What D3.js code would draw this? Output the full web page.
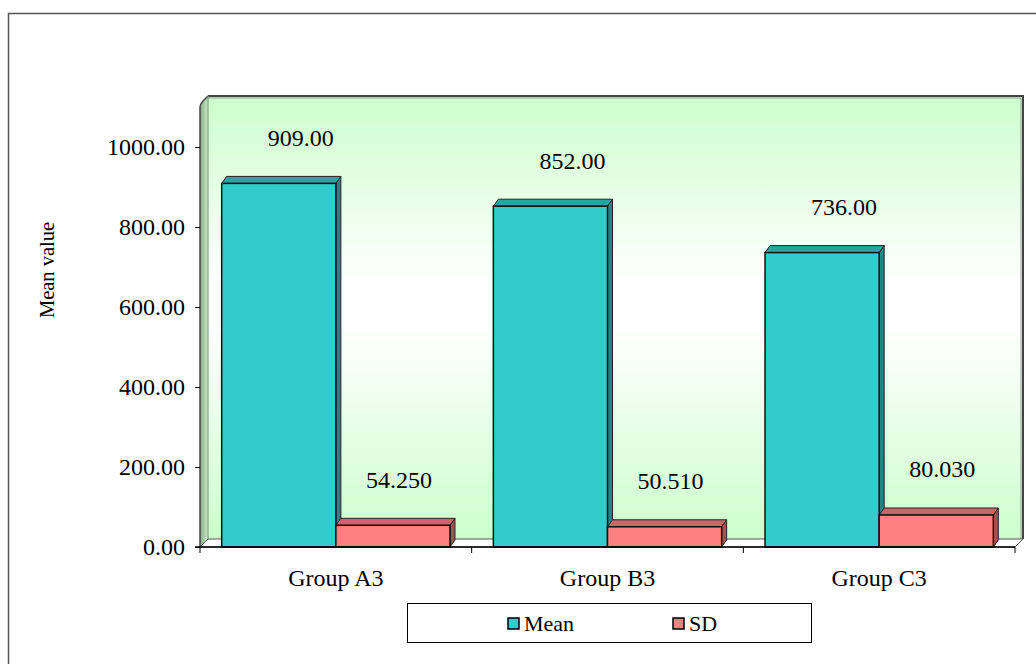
<!DOCTYPE html>
<html>
<head>
<meta charset="utf-8">
<script src="https://cdn.jsdelivr.net/npm/d3@7"></script>
<style>
  html, body { margin: 0; padding: 0; background: #fff; }
  svg { display: block; font-family: "Liberation Serif", "Times New Roman", serif; }
  svg text { font-family: "Liberation Serif", "Times New Roman", serif; fill: #000; }
</style>
</head>
<body>
<svg id="chart" width="1036" height="664"></svg>
<script>
// Chart data
const categories = ["Group A3", "Group B3", "Group C3"];
const seriesNames = ["Mean", "SD"];
const meanValues = [909.00, 852.00, 736.00];
const sdValues = [54.250, 50.510, 80.030];
const meanLabels = ["909.00", "852.00", "736.00"];
const sdLabels = ["54.250", "50.510", "80.030"];
const yTicks = [0, 200, 400, 600, 800, 1000];

const FONT = "'Liberation Serif', 'Times New Roman', serif";
const svg = d3.select("#chart");
const W = 1036, H = 664;

// Plot frame (front plane) and 3D depth offsets
const plot = { left: 200, right: 1015, top: 104, bottom: 547 };
const wallDx = 8, wallDy = -8;   // depth of walls / floor
const barDx = 5, barDy = -7;     // depth of each column

const colors = {
  Mean: { front: "#33cccc", top: "#29a3a3", side: "#1f8585" },
  SD:   { front: "#ff8080", top: "#cc6666", side: "#a35252" }
};

const x = d3.scaleBand().domain(categories).range([plot.left, plot.right]).paddingInner(0).paddingOuter(0);
const inner = d3.scaleBand().domain(seriesNames).range([0, x.bandwidth()]).paddingOuter(0.19).paddingInner(0);
const y = d3.scaleLinear().domain([0, 1107.5]).range([plot.bottom, plot.top]);

// Outer chart area border
svg.append("rect")
  .attr("x", 8.5).attr("y", 13.5)
  .attr("width", W + 20).attr("height", H + 20)
  .attr("fill", "#fff").attr("stroke", "#555").attr("stroke-width", 1.5);

const defs = svg.append("defs");
const wallGrad = defs.append("linearGradient").attr("id", "wallGrad")
  .attr("x1", 0).attr("y1", 0).attr("x2", 0).attr("y2", 1);
wallGrad.append("stop").attr("offset", "0").attr("stop-color", "#ccffcc");
wallGrad.append("stop").attr("offset", "0.42").attr("stop-color", "#ffffff");
wallGrad.append("stop").attr("offset", "0.52").attr("stop-color", "#ffffff");
wallGrad.append("stop").attr("offset", "1").attr("stop-color", "#ccffcc");

const sideGrad = defs.append("linearGradient").attr("id", "sideGrad")
  .attr("x1", 0).attr("y1", 0).attr("x2", 1).attr("y2", 0);
sideGrad.append("stop").attr("offset", "0").attr("stop-color", "#8aa88a");
sideGrad.append("stop").attr("offset", "1").attr("stop-color", "#c4f0c4");

const yTop = y.range()[1];
const yBot = y.range()[0];
const xL = x.range()[0], xR = x.range()[1];

// Back wall
svg.append("rect")
  .attr("x", xL + wallDx).attr("y", yTop + wallDy)
  .attr("width", xR - xL).attr("height", yBot - yTop)
  .attr("fill", "url(#wallGrad)");
svg.append("path")
  .attr("d", `M${xL + wallDx},${yTop + wallDy} H${xR + wallDx} V${yBot + wallDy}`)
  .attr("fill", "none").attr("stroke", "#444").attr("stroke-width", 2);
svg.append("path")
  .attr("d", `M${xL + wallDx},${yTop + wallDy + 2} H${xR + wallDx - 2} V${yBot + wallDy}`)
  .attr("fill", "none").attr("stroke", "#999").attr("stroke-width", 1);

// Side wall (left)
svg.append("path")
  .attr("d", `M${xL},${yBot} L${xL},${yTop + 4} Q${xL},${yTop} ${xL + 3},${yTop - 3} L${xL + wallDx},${yTop + wallDy} L${xL + wallDx},${yBot + wallDy} Z`)
  .attr("fill", "url(#sideGrad)");
svg.append("path")
  .attr("d", `M${xL},${yBot} L${xL},${yTop + 4} Q${xL},${yTop} ${xL + 3},${yTop - 3} L${xL + wallDx},${yTop + wallDy}`)
  .attr("fill", "none").attr("stroke", "#444").attr("stroke-width", 1.5);
svg.append("line")
  .attr("x1", xL + wallDx).attr("y1", yTop + wallDy).attr("x2", xL + wallDx).attr("y2", yBot + wallDy)
  .attr("stroke", "#6f8f6f").attr("stroke-width", 1);

// Floor
svg.append("path")
  .attr("d", `M${xL},${yBot} L${xL + wallDx},${yBot + wallDy} H${xR + wallDx} L${xR},${yBot} Z`)
  .attr("fill", "#ffffff").attr("stroke", "#555").attr("stroke-width", 1);

// Columns
const barData = [];
categories.forEach((c, i) => {
  barData.push({ cat: c, series: "Mean", value: meanValues[i], label: meanLabels[i] });
  barData.push({ cat: c, series: "SD", value: sdValues[i], label: sdLabels[i] });
});

const bars = svg.append("g").selectAll("g").data(barData).join("g");
bars.each(function(d) {
  const g = d3.select(this);
  const x0 = x(d.cat) + inner(d.series);
  const x1 = x0 + inner.bandwidth();
  const y0 = y(0), y1 = y(d.value);
  const col = colors[d.series];
  // right side face
  g.append("path")
    .attr("d", `M${x1},${y1} L${x1 + barDx},${y1 + barDy} L${x1 + barDx},${y0 + barDy} L${x1},${y0} Z`)
    .attr("fill", col.side).attr("stroke", "#222").attr("stroke-width", 1).attr("stroke-linejoin", "round");
  // top face
  g.append("path")
    .attr("d", `M${x0},${y1} L${x0 + barDx},${y1 + barDy} L${x1 + barDx},${y1 + barDy} L${x1},${y1} Z`)
    .attr("fill", col.top).attr("stroke", "#222").attr("stroke-width", 1).attr("stroke-linejoin", "round");
  // front face
  g.append("rect")
    .attr("x", x0).attr("y", y1).attr("width", x1 - x0).attr("height", y0 - y1)
    .attr("fill", col.front).attr("stroke", "#111").attr("stroke-width", 1.5);
});

// Value labels
const labelOffsetX = { Mean: 22, SD: 6 };
svg.append("g").selectAll("text").data(barData).join("text")
  .attr("x", d => x(d.cat) + inner(d.series) + inner.bandwidth() / 2 + labelOffsetX[d.series])
  .attr("y", d => y(d.value) - 46)
  .attr("dy", "0.35em")
  .attr("text-anchor", "middle")
  .style("font-family", FONT)
  .style("font-size", "24px")
  .text(d => d.label);

// Value axis
const yAxis = d3.axisLeft(y).tickValues(yTicks).tickSize(5).tickPadding(10)
  .tickFormat(d3.format(".2f"));
const yG = svg.append("g").attr("transform", `translate(${xL},0)`).call(yAxis);
yG.select(".domain").remove();
yG.selectAll(".tick line").attr("stroke", "#000");
yG.selectAll(".tick text").style("font-size", "24px").style("font-family", FONT).attr("fill", "#000");

// Category axis
svg.append("line")
  .attr("x1", xL - 5).attr("x2", xR).attr("y1", yBot).attr("y2", yBot)
  .attr("stroke", "#000").attr("stroke-width", 1.5);
const xAxis = d3.axisBottom(x).tickSize(0).tickPadding(22);
const xG = svg.append("g").attr("transform", `translate(0,${yBot})`).call(xAxis);
xG.select(".domain").remove();
xG.selectAll(".tick text").style("font-size", "24px").style("font-family", FONT).attr("fill", "#000");
const boundaries = [xL].concat(categories.map(c => x(c) + x.bandwidth()));
svg.append("g").selectAll("line").data(boundaries).join("line")
  .attr("x1", d => d).attr("x2", d => d)
  .attr("y1", yBot).attr("y2", yBot + 6)
  .attr("stroke", "#000").attr("stroke-width", 1);

// Axis title
svg.append("text")
  .attr("transform", `translate(54,${(y(0) + y(1000)) / 2 - 77}) rotate(-90)`)
  .attr("text-anchor", "middle")
  .style("font-family", FONT)
  .style("font-size", "20.5px")
  .text("Mean value");

// Legend
const legend = svg.append("g");
legend.append("rect")
  .attr("x", 407.5).attr("y", 603.5).attr("width", 404).attr("height", 39)
  .attr("fill", "#fff").attr("stroke", "#000").attr("stroke-width", 1);
const legendX = [508, 673];
seriesNames.forEach((s, i) => {
  legend.append("rect")
    .attr("x", legendX[i]).attr("y", 618).attr("width", 11).attr("height", 11)
    .attr("fill", colors[s].front).attr("stroke", "#000").attr("stroke-width", 1.5);
  legend.append("text")
    .attr("x", legendX[i] + 16).attr("y", 623.5)
    .attr("dy", "0.35em")
    .style("font-family", FONT)
    .style("font-size", "22px")
    .text(s);
});
</script>
</body>
</html>
